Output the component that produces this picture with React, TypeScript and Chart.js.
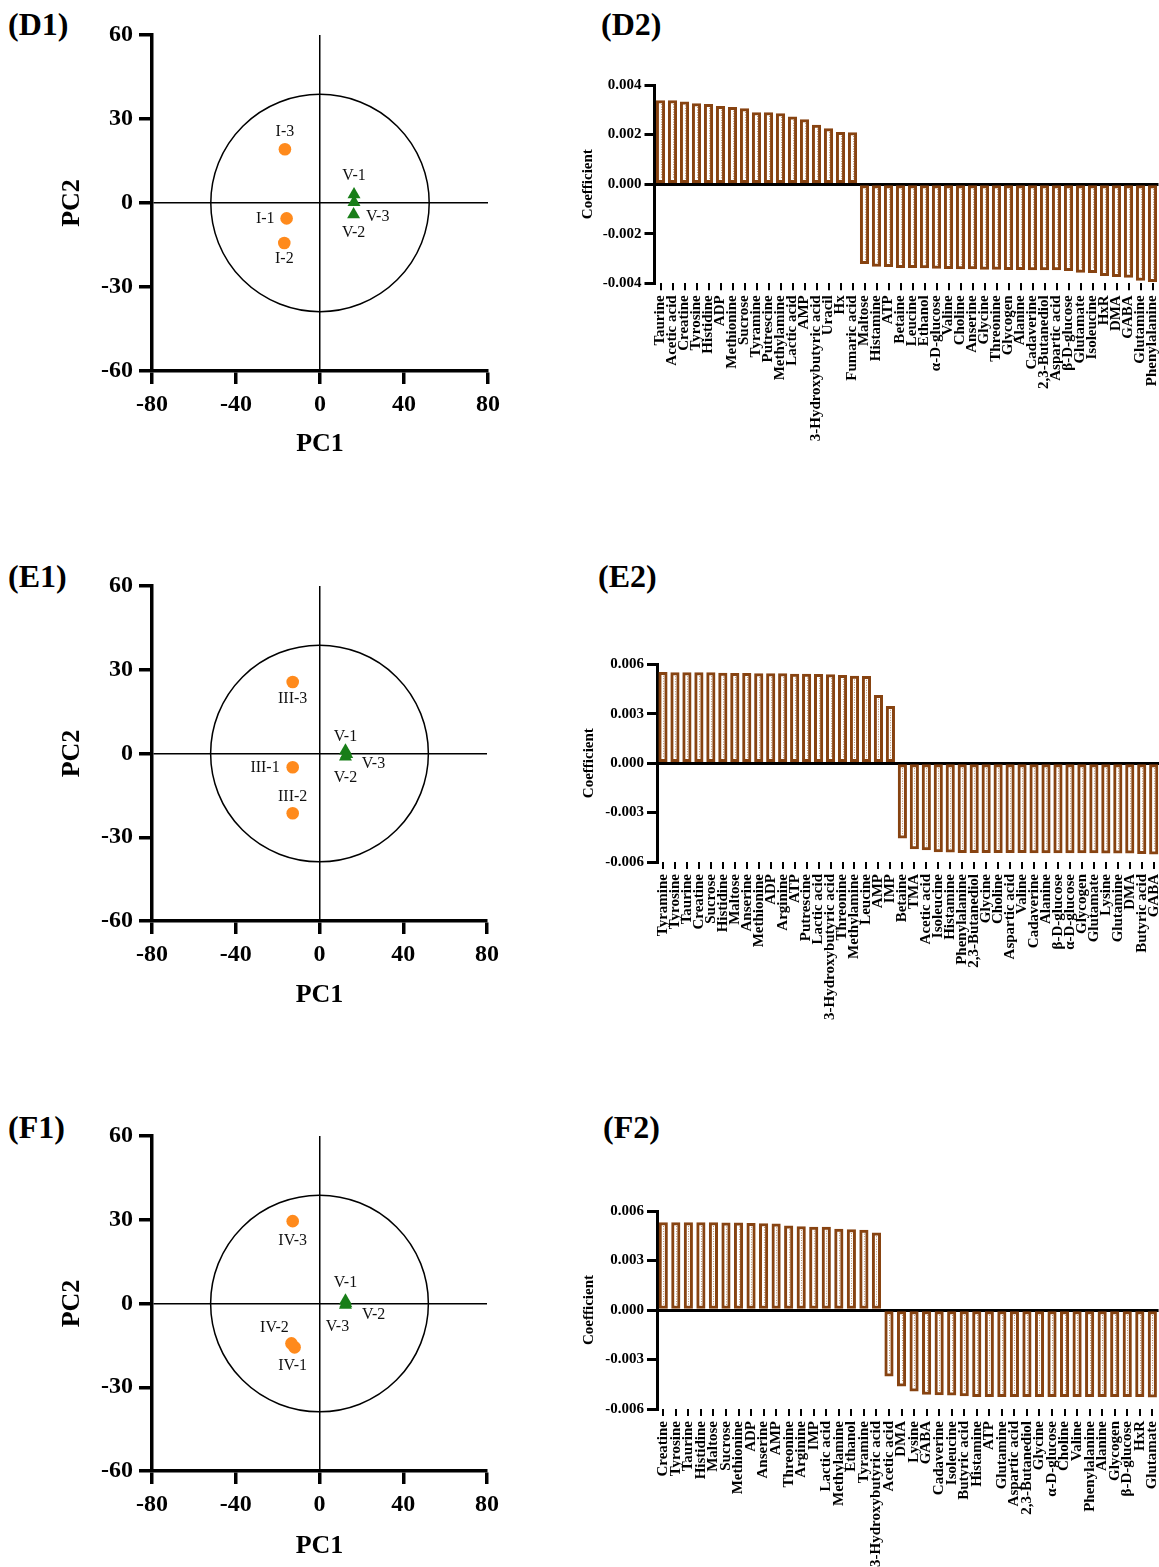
import React, { useEffect, useRef } from 'react';
import { Chart, registerables } from 'chart.js';
Chart.register(...registerables);

const SERIF = "'Liberation Serif', 'Times New Roman', Times, serif";
const ORANGE = '#FF8A1C';
const GREEN = '#187E18';
const BROWN = '#874311';

// ---------- PCA score plots ----------
const pcaXTicks = [-80, -40, 0, 40, 80];
const pcaYTicks = [-60, -30, 0, 30, 60];
const ellipseRX = 52;
const ellipseRY = 38.8;

const d1OrangeNames = ['I-1', 'I-2', 'I-3'];
const d1OrangeX = [-15.9, -17.0, -16.7];
const d1OrangeY = [-5.5, -14.3, 19.2];
const d1GreenNames = ['V-1', 'V-2', 'V-3'];
const d1GreenX = [16.2, 16.0, 16.2];
const d1GreenY = [3.0, -4.1, 0.3];

const e1OrangeNames = ['III-1', 'III-2', 'III-3'];
const e1OrangeX = [-12.8, -12.8, -12.8];
const e1OrangeY = [-4.9, -21.4, 25.6];
const e1GreenNames = ['V-1', 'V-2', 'V-3'];
const e1GreenX = [12.4, 12.4, 13.0];
const e1GreenY = [1.0, -1.2, -0.3];

const f1OrangeNames = ['IV-1', 'IV-2', 'IV-3'];
const f1OrangeX = [-11.9, -13.4, -12.8];
const f1OrangeY = [-15.7, -14.3, 29.5];
const f1GreenNames = ['V-1', 'V-2', 'V-3'];
const f1GreenX = [12.4, 12.6, 12.4];
const f1GreenY = [1.0, 0.0, -0.5];

// label placement (style only): [dx, dy, align]
const d1OrangePlace = [[-12, 0, 'right'], [0, 16, 'center'], [0, -17, 'center']];
const d1GreenPlace = [[0, -19, 'center'], [0, 18, 'center'], [12, 15, 'left']];
const e1OrangePlace = [[-13, 1, 'right'], [0, -16, 'center'], [0, 17, 'center']];
const e1GreenPlace = [[0, -14, 'center'], [0, 21, 'center'], [15, 9, 'left']];
const f1OrangePlace = [[-2, 18, 'center'], [-17, -16, 'center'], [0, 20, 'center']];
const f1GreenPlace = [[0, -18, 'center'], [16, 11, 'left'], [-8, 22, 'center']];

// ---------- Coefficient bar charts ----------
const d2YTicks = [-0.004, -0.002, 0, 0.002, 0.004];
const d2Labels = ['Taurine', 'Acetic acid', 'Creatine', 'Tyrosine', 'Histidine', 'ADP', 'Methionine', 'Sucrose', 'Tyramine', 'Putrescine', 'Methylamine', 'Lactic acid', 'AMP', '3-Hydroxybutyric acid', 'Uracil', 'Hx', 'Fumaric acid', 'Maltose', 'Histamine', 'ATP', 'Betaine', 'Leucine', 'Ethanol', 'α-D-glucose', 'Valine', 'Choline', 'Anserine', 'Glycine', 'Threonine', 'Glycogen', 'Alanine', 'Cadaverine', '2,3-Butanediol', 'Aspartic acid', 'β-D-glucose', 'Glutamate', 'Isoleucine', 'HxR', 'DMA', 'GABA', 'Glutamine', 'Phenylalanine'];
const d2Values = [0.00337, 0.00337, 0.00332, 0.00325, 0.00322, 0.00314, 0.0031, 0.00305, 0.00289, 0.00289, 0.00285, 0.00272, 0.0026, 0.00238, 0.00224, 0.00209, 0.00208,
  -0.00321, -0.00332, -0.00333, -0.00337, -0.00337, -0.00338, -0.0034, -0.00341, -0.00342, -0.00342, -0.00344, -0.00344, -0.00345, -0.00345, -0.00346, -0.00346, -0.00346, -0.00349, -0.00356, -0.00357, -0.00369, -0.00373, -0.00376, -0.00388, -0.00393];

const e2YTicks = [-0.006, -0.003, 0, 0.003, 0.006];
const e2Labels = ['Tyramine', 'Tyrosine', 'Taurine', 'Creatine', 'Sucrose', 'Histidine', 'Maltose', 'Anserine', 'Methionine', 'ADP', 'Arginine', 'ATP', 'Putrescine', 'Lactic acid', '3-Hydroxybutyric acid', 'Threonine', 'Methylamine', 'Leucine', 'AMP', 'IMP', 'Betaine', 'TMA', 'Acetic acid', 'Isoleucine', 'Histamine', 'Phenylalanine', '2,3-Butanediol', 'Glycine', 'Choline', 'Aspartic acid', 'Valine', 'Cadaverine', 'Alanine', 'β-D-glucose', 'α-D-glucose', 'Glycogen', 'Glutamate', 'Lysine', 'Glutamine', 'DMA', 'Butyric acid', 'GABA'];
const e2Values = [0.00552, 0.00549, 0.00549, 0.00549, 0.00549, 0.00547, 0.00545, 0.00545, 0.00543, 0.00543, 0.00543, 0.00541, 0.00541, 0.00539, 0.00537, 0.00533, 0.00529, 0.00527, 0.00412, 0.00345,
  -0.00455, -0.00521, -0.00527, -0.00539, -0.00541, -0.00543, -0.00543, -0.00543, -0.00543, -0.00543, -0.00543, -0.00545, -0.00545, -0.00545, -0.00545, -0.00545, -0.00545, -0.00547, -0.00547, -0.00547, -0.00549, -0.00552];

const f2YTicks = [-0.006, -0.003, 0, 0.003, 0.006];
const f2Labels = ['Creatine', 'Tyrosine', 'Taurine', 'Histidine', 'Maltose', 'Sucrose', 'Methionine', 'ADP', 'Anserine', 'AMP', 'Threonine', 'Arginine', 'IMP', 'Lactic acid', 'Methylamine', 'Ethanol', 'Tyramine', '3-Hydroxybutyric acid', 'Acetic acid', 'DMA', 'Lysine', 'GABA', 'Cadaverine', 'Isoleucine', 'Butyric acid', 'Histamine', 'ATP', 'Glutamine', 'Aspartic acid', '2,3-Butanediol', 'Glycine', 'α-D-glucose', 'Choline', 'Valine', 'Phenylalanine', 'Alanine', 'Glycogen', 'β-D-glucose', 'HxR', 'Glutamate'];
const f2Values = [0.0053, 0.0053, 0.0053, 0.0053, 0.0053, 0.00528, 0.00528, 0.00526, 0.00524, 0.00522, 0.0051, 0.00506, 0.00502, 0.00502, 0.0049, 0.00488, 0.00484, 0.00468,
  -0.00401, -0.00462, -0.00492, -0.00512, -0.00514, -0.00516, -0.0052, -0.00526, -0.00526, -0.00526, -0.00526, -0.00526, -0.00526, -0.00526, -0.00526, -0.00526, -0.00526, -0.00526, -0.00526, -0.00526, -0.00526, -0.00528];

function ScatterPanel(props: any) {
  const { box, area, titleGap, oNames, oX, oY, gNames, gX, gY, oPlace, gPlace } = props;
  const ref = useRef<HTMLCanvasElement | null>(null);
  useEffect(() => {
    const canvas = ref.current!;
    const yW = area.l - box.x;
    const xH = box.y + box.h - area.b;
    const titleLH = 26 * 1.2;
    const ellipsePlugin = {
      id: 'ellipse',
      beforeDatasetsDraw(chart: any) {
        const { ctx } = chart;
        const sx = chart.scales.x, sy = chart.scales.y;
        const cx = sx.getPixelForValue(0), cy = sy.getPixelForValue(0);
        const rx = Math.abs(sx.getPixelForValue(ellipseRX) - cx);
        const ry = Math.abs(sy.getPixelForValue(ellipseRY) - cy);
        ctx.save();
        ctx.beginPath();
        ctx.ellipse(cx, cy, rx, ry, 0, 0, Math.PI * 2);
        ctx.lineWidth = 1.5;
        ctx.strokeStyle = '#000';
        ctx.stroke();
        ctx.restore();
      },
    };
    const labelPlugin = {
      id: 'ptLabels',
      afterDatasetsDraw(chart: any) {
        const { ctx } = chart;
        ctx.save();
        ctx.font = `16px ${SERIF}`;
        ctx.fillStyle = '#111';
        ctx.textBaseline = 'middle';
        const sets = [[oNames, oPlace], [gNames, gPlace]];
        sets.forEach(([names, place]: any, di: number) => {
          const meta = chart.getDatasetMeta(di);
          meta.data.forEach((el: any, i: number) => {
            const p = place[i];
            ctx.textAlign = p[2];
            ctx.fillText(names[i], el.x + p[0], el.y + p[1]);
          });
        });
        ctx.restore();
      },
    };
    const tickFont = { family: SERIF, size: 24, weight: 'bold' as const };
    const titleFont = { family: SERIF, size: 26, weight: 'bold' as const };
    const zeroColor = (c: any) => (Math.abs(c.tick.value) < 1e-9 ? '#000' : 'rgba(0,0,0,0)');
    const chart = new Chart(canvas, {
      type: 'scatter',
      data: {
        datasets: [
          {
            data: oX.map((x: number, i: number) => ({ x, y: oY[i] })),
            pointStyle: 'circle',
            pointRadius: 6.3,
            backgroundColor: ORANGE,
            borderColor: ORANGE,
            borderWidth: 0,
          },
          {
            data: gX.map((x: number, i: number) => ({ x, y: gY[i] })),
            pointStyle: 'triangle',
            pointRadius: 7.5,
            backgroundColor: GREEN,
            borderColor: GREEN,
            borderWidth: 0,
          },
        ],
      },
      options: {
        animation: false,
        responsive: false,
        events: [],
        layout: { padding: { left: 0, top: area.t - box.y, right: box.x + box.w - area.r, bottom: 0 } },
        plugins: { legend: { display: false }, tooltip: { enabled: false } },
        scales: {
          x: {
            type: 'linear',
            min: pcaXTicks[0],
            max: pcaXTicks[pcaXTicks.length - 1],
            ticks: { stepSize: pcaXTicks[1] - pcaXTicks[0], font: tickFont, color: '#000', padding: 6, maxRotation: 0 },
            grid: { color: zeroColor, lineWidth: 1.5, tickColor: '#000', tickWidth: 3.5, tickLength: 13 },
            border: { display: true, color: '#000', width: 3.5 },
            title: { display: true, text: 'PC1', font: titleFont, color: '#000', padding: { top: 0, bottom: titleGap.bottom - titleLH / 2 } },
            afterFit: (s: any) => { s.height = xH; s.paddingLeft = 0; s.paddingRight = 0; },
          },
          y: {
            type: 'linear',
            min: pcaYTicks[0],
            max: pcaYTicks[pcaYTicks.length - 1],
            ticks: { stepSize: pcaYTicks[1] - pcaYTicks[0], font: tickFont, color: '#000', padding: 6 },
            grid: { color: zeroColor, lineWidth: 1.5, tickColor: '#000', tickWidth: 3.5, tickLength: 13 },
            border: { display: true, color: '#000', width: 3.5 },
            title: { display: true, text: 'PC2', font: titleFont, color: '#000', padding: { top: titleGap.left - box.x - titleLH / 2, bottom: 0 } },
            afterFit: (s: any) => { s.width = yW; s.paddingTop = 0; s.paddingBottom = 0; },
          },
        },
      } as any,
      plugins: [ellipsePlugin, labelPlugin],
    } as any);
    return () => chart.destroy();
  }, []);
  return <canvas ref={ref} width={box.w} height={box.h} style={{ position: 'absolute', left: box.x, top: box.y }} />;
}

function BarPanel(props: any) {
  const { box, area, titleX, labels, values, yTicks } = props;
  const ref = useRef<HTMLCanvasElement | null>(null);
  useEffect(() => {
    const canvas = ref.current!;
    const yW = area.l - box.x;
    const xH = box.y + box.h - area.b;
    const titleLH = 15 * 1.2;
    const dotPlugin = {
      id: 'barDots',
      afterDatasetsDraw(chart: any) {
        const { ctx } = chart;
        const meta = chart.getDatasetMeta(0);
        ctx.save();
        ctx.strokeStyle = '#B98E6A';
        ctx.lineWidth = 1;
        ctx.setLineDash([1, 1.5]);
        meta.data.forEach((el: any) => {
          const top = Math.min(el.y, el.base) + 3.5;
          const bot = Math.max(el.y, el.base) - 3.5;
          const x = Math.round(el.x) + 0.5;
          ctx.beginPath();
          ctx.moveTo(x, top);
          ctx.lineTo(x, bot);
          ctx.stroke();
        });
        ctx.restore();
      },
    };
    const font15 = { family: SERIF, size: 15, weight: 'bold' as const };
    const isZero = (v: number) => Math.abs(v) < 1e-12;
    const chart = new Chart(canvas, {
      type: 'bar',
      data: {
        labels,
        datasets: [
          {
            data: values,
            backgroundColor: '#FFFFFF',
            borderColor: BROWN,
            borderWidth: 3,
            borderSkipped: false,
            barThickness: 8.5,
          },
        ],
      },
      options: {
        animation: false,
        responsive: false,
        events: [],
        layout: { padding: { left: 0, top: area.t - box.y, right: box.x + box.w - area.r, bottom: 0 } },
        plugins: { legend: { display: false }, tooltip: { enabled: false } },
        scales: {
          x: {
            ticks: { autoSkip: false, maxRotation: 90, minRotation: 90, font: font15, color: '#000', padding: 5 },
            grid: { offset: false, drawOnChartArea: false, color: '#000', lineWidth: 2, tickColor: '#000', tickWidth: 2, tickLength: 7 },
            border: { display: false },
            afterFit: (s: any) => { s.height = xH; s.paddingLeft = 0; s.paddingRight = 0; },
          },
          y: {
            z: 1,
            min: yTicks[0],
            max: yTicks[yTicks.length - 1],
            ticks: {
              stepSize: yTicks[1] - yTicks[0],
              font: font15,
              color: '#000',
              padding: 3,
              callback: (v: any) => (isZero(Number(v)) ? '0.000' : Number(v).toFixed(3)),
            },
            grid: {
              color: (c: any) => (isZero(c.tick.value) ? '#000' : 'rgba(0,0,0,0)'),
              lineWidth: 3,
              tickColor: '#000',
              tickWidth: 3,
              tickLength: 10,
            },
            border: { display: true, color: '#000', width: 3 },
            title: { display: true, text: 'Coefficient', font: font15, color: '#000', padding: { top: titleX - box.x - titleLH / 2, bottom: 0 } },
            afterFit: (s: any) => { s.width = yW; s.paddingTop = 0; s.paddingBottom = 0; },
          },
        },
      } as any,
      plugins: [dotPlugin],
    } as any);
    return () => chart.destroy();
  }, []);
  return <canvas ref={ref} width={box.w} height={box.h} style={{ position: 'absolute', left: box.x, top: box.y }} />;
}

function PanelLabel({ text, x, y }: { text: string; x: number; y: number }) {
  return (
    <div style={{ position: 'absolute', left: x, top: y, fontFamily: SERIF, fontWeight: 'bold', fontSize: 32, lineHeight: '32px', color: '#000', whiteSpace: 'nowrap' }}>
      {text}
    </div>
  );
}

export default function App() {
  return (
    <div style={{ position: 'fixed', left: 0, top: 0, width: 1159, height: 1567, overflow: 'hidden', background: '#fff' }}>
      <PanelLabel text="(D1)" x={8} y={8} />
      <PanelLabel text="(D2)" x={601} y={8} />
      <PanelLabel text="(E1)" x={8} y={560} />
      <PanelLabel text="(E2)" x={598} y={560} />
      <PanelLabel text="(F1)" x={8} y={1111} />
      <PanelLabel text="(F2)" x={603} y={1111} />

      <ScatterPanel
        box={{ x: 0, y: 0, w: 500, h: 470 }}
        area={{ l: 152, t: 35, r: 488, b: 371 }}
        titleGap={{ bottom: 26, left: 72.5 }}
        oNames={d1OrangeNames} oX={d1OrangeX} oY={d1OrangeY}
        gNames={d1GreenNames} gX={d1GreenX} gY={d1GreenY}
        oPlace={d1OrangePlace} gPlace={d1GreenPlace}
      />
      <ScatterPanel
        box={{ x: 0, y: 551, w: 500, h: 470 }}
        area={{ l: 152, t: 586, r: 487, b: 921 }}
        titleGap={{ bottom: 26, left: 72.5 }}
        oNames={e1OrangeNames} oX={e1OrangeX} oY={e1OrangeY}
        gNames={e1GreenNames} gX={e1GreenX} gY={e1GreenY}
        oPlace={e1OrangePlace} gPlace={e1GreenPlace}
      />
      <ScatterPanel
        box={{ x: 0, y: 1101, w: 500, h: 466 }}
        area={{ l: 152, t: 1136, r: 487, b: 1471 }}
        titleGap={{ bottom: 21, left: 72.5 }}
        oNames={f1OrangeNames} oX={f1OrangeX} oY={f1OrangeY}
        gNames={f1GreenNames} gX={f1GreenX} gY={f1GreenY}
        oPlace={f1OrangePlace} gPlace={f1GreenPlace}
      />

      <BarPanel
        box={{ x: 560, y: 0, w: 620, h: 460 }}
        area={{ l: 654.5, t: 85, r: 1158.5, b: 283.3 }}
        titleX={588.6}
        labels={d2Labels} values={d2Values} yTicks={d2YTicks}
      />
      <BarPanel
        box={{ x: 560, y: 579, w: 620, h: 460 }}
        area={{ l: 657, t: 664.3, r: 1159.7, b: 862 }}
        titleX={589}
        labels={e2Labels} values={e2Values} yTicks={e2YTicks}
      />
      <BarPanel
        box={{ x: 560, y: 1126, w: 620, h: 441 }}
        area={{ l: 657, t: 1211, r: 1158.6, b: 1409 }}
        titleX={589}
        labels={f2Labels} values={f2Values} yTicks={f2YTicks}
      />
    </div>
  );
}
